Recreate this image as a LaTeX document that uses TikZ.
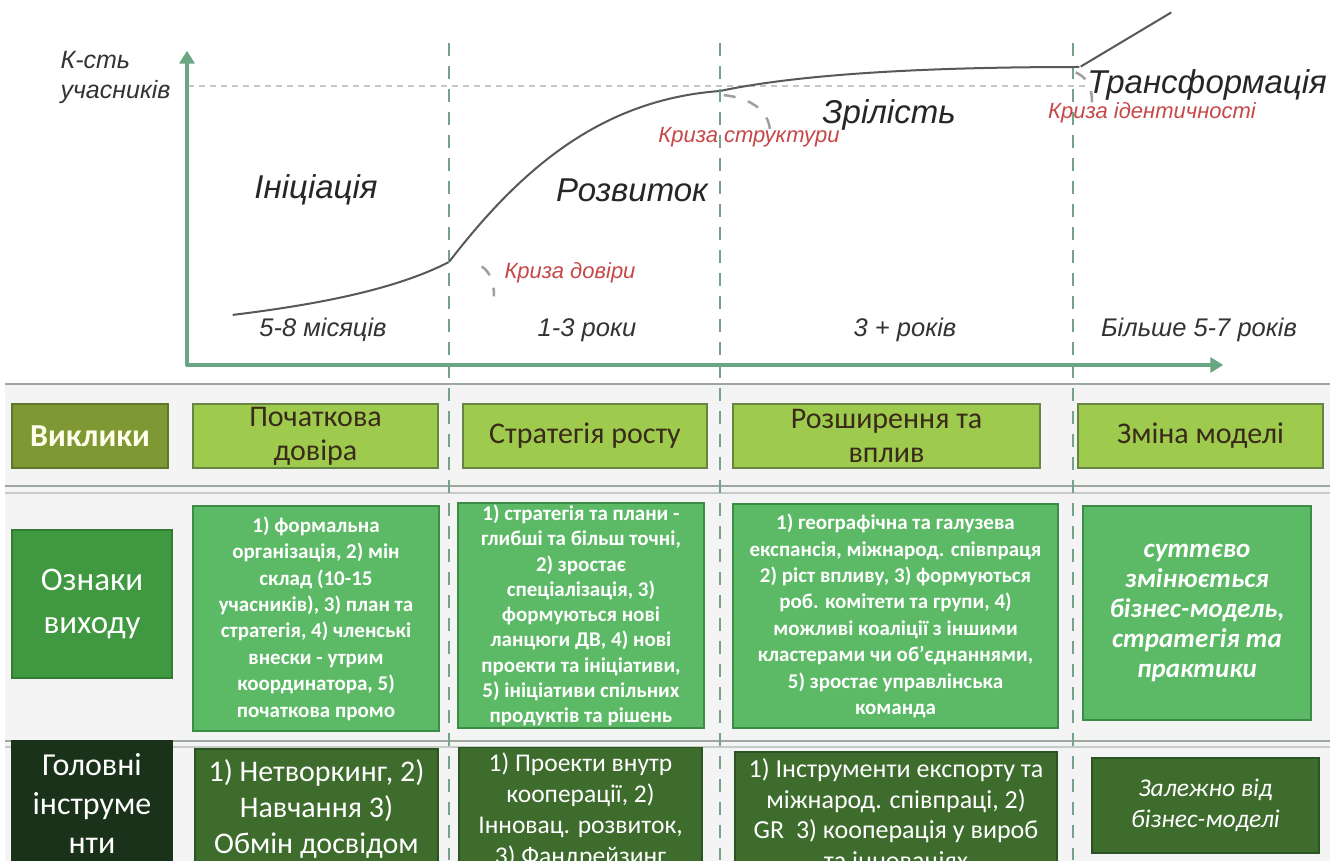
\documentclass[tikz,border=0pt]{standalone}
\usepackage{fontspec}
\setmainfont{Liberation Sans}
\newfontfamily\boxfont{Carlito}
\usetikzlibrary{arrows.meta}
\definecolor{axis_green}{RGB}{104, 166, 132}
\definecolor{guide_green}{RGB}{118, 162, 138}
\definecolor{crisis_red}{RGB}{198, 72, 72}
\definecolor{curve_grey}{RGB}{88, 88, 88}
\definecolor{band_grey}{RGB}{243, 244, 243}
\definecolor{rule_grey}{RGB}{158, 168, 160}
\definecolor{head_olive}{RGB}{126, 152, 52}
\definecolor{head_olive_edge}{RGB}{96, 118, 44}
\definecolor{chal_green}{RGB}{158, 202, 78}
\definecolor{chal_edge}{RGB}{104, 132, 66}
\definecolor{chal_text}{RGB}{58, 42, 26}
\definecolor{exit_head}{RGB}{64, 152, 64}
\definecolor{exit_green}{RGB}{92, 186, 102}
\definecolor{exit_edge}{RGB}{58, 140, 70}
\definecolor{tool_head}{RGB}{26, 50, 26}
\definecolor{tool_green}{RGB}{62, 108, 45}
\definecolor{tool_edge}{RGB}{44, 84, 34}
\tikzstyle{none}=[inner sep=0pt]
\tikzstyle{ax}=[draw=axis_green,line width=4pt,-{Triangle[length=13pt,width=15pt]}]
\tikzstyle{guide}=[draw=guide_green,line width=2.5pt,dash pattern=on 13pt off 10pt]
\tikzstyle{level}=[draw=gray!45,line width=1.2pt,dash pattern=on 6pt off 5pt]
\tikzstyle{curve}=[draw=curve_grey,line width=2pt]
\tikzstyle{crdash}=[draw=gray!75,line width=2.5pt,dash pattern=on 12pt off 13pt]
\tikzstyle{ylab}=[font=\itshape\fontsize{25}{30}\selectfont,text=black!80,align=left]
\tikzstyle{phase}=[font=\itshape\fontsize{33}{38}\selectfont,text=black!85]
\tikzstyle{crisis}=[font=\itshape\fontsize{22}{26}\selectfont,text=crisis_red]
\tikzstyle{dur}=[font=\itshape\fontsize{25.5}{30}\selectfont,text=black!80]
\tikzstyle{cell}=[rectangle,align=center,inner sep=0pt,line width=1.5pt]
\tikzstyle{hd1}=[cell,fill=head_olive,draw=head_olive_edge,text=white!92!yellow,
  font=\boxfont\bfseries\fontsize{32}{36}\selectfont]
\tikzstyle{ch}=[cell,fill=chal_green,draw=chal_edge,text=chal_text,
  font=\boxfont\fontsize{30}{34}\selectfont]
\tikzstyle{hd2}=[cell,fill=exit_head,draw=exit_head!80!black,text=white,
  font=\boxfont\fontsize{33}{43}\selectfont]
\tikzstyle{ex}=[cell,fill=exit_green,draw=exit_edge,text=white,
  font=\boxfont\bfseries\fontsize{21}{26.4}\selectfont]
\tikzstyle{hd3}=[cell,fill=tool_head,draw=tool_head,text=white,
  font=\boxfont\fontsize{32}{39}\selectfont]
\tikzstyle{tl}=[cell,fill=tool_green,draw=tool_edge,text=white,
  font=\boxfont\fontsize{25.5}{31}\selectfont]

\begin{document}
\begin{tikzpicture}[x=1pt,y=-1pt]
        \clip (0,0) rectangle (1339,861);
        \fill [white] (0,0) rectangle (1339,861);
        % lower table area
        \fill [band_grey] (5,384) rectangle (1330,861);
        \draw [rule_grey,line width=2.5pt] (5,384) -- (1330,384);
        \draw [rule_grey,line width=2.5pt] (5,486) -- (1330,486);
        \draw [rule_grey!60,line width=1.5pt] (5,493) -- (1330,493);
        \draw [rule_grey,line width=2.5pt] (5,741) -- (1330,741);
        \draw [rule_grey!60,line width=1.5pt] (5,747) -- (1330,747);
        % stage borders
        \node [style=none] (4) at (449,42) {};
        \node [style=none] (5) at (449,861) {};
        \node [style=none] (6) at (720,42) {};
        \node [style=none] (7) at (720,861) {};
        \node [style=none] (8) at (1073,42) {};
        \node [style=none] (9) at (1073,861) {};
        \draw [style=guide] (4) to (5);
        \draw [style=guide] (6) to (7);
        \draw [style=guide] (8) to (9);
        \node [style=none] (10) at (187,86) {};
        \node [style=none] (11) at (1088,86) {};
        \draw [style=level] (10) to (11);
        % axes
        \node [style=none] (0) at (187,367) {};
        \node [style=none] (1) at (187,50) {};
        \node [style=none] (2) at (185,365) {};
        \node [style=none] (3) at (1224,365) {};
        \draw [style=ax] (0) to (1);
        \draw [style=ax] (2) to (3);
        % life curve
        \node [style=none] (12) at (232,315) {};
        \node [style=none] (13) at (449,262) {};
        \node [style=none] (14) at (720,91) {};
        \node [style=none] (15) at (1080,67) {};
        \node [style=none] (16) at (1172,12) {};
        \draw [style=curve] (12) .. controls (330,303) and (400,287) .. (13)
          .. controls (520,170) and (600,100) .. (14)
          .. controls (810,72) and (950,67) .. (15) -- (16);
        % crisis marks
        \node [style=none] (17) at (481,266) {};
        \node [style=none] (18) at (494,297) {};
        \node [style=none] (19) at (723,95) {};
        \node [style=none] (20) at (770,130) {};
        \node [style=none] (21) at (1075,72) {};
        \node [style=none] (22) at (1092,103) {};
        \draw [style=crdash] (17) .. controls (490,272) and (494,282) .. (18);
        \draw [style=crdash] (19) .. controls (750,98) and (768,110) .. (20);
        \draw [style=crdash] (21) .. controls (1088,78) and (1092,88) .. (22);
        % chart texts
        \node [style=ylab,anchor=west] (23) at (57,77) {К-сть\\учасників};
        \node [style=phase] (24) at (316,190) {Ініціація};
        \node [style=phase] (25) at (632,190) {Розвиток};
        \node [style=phase] (26) at (889,115) {Зрілість};
        \node [style=phase] (27) at (1207,85) {Трансформація};
        \node [style=crisis] (28) at (570,273) {Криза довіри};
        \node [style=crisis] (29) at (749,137) {Криза структури};
        \node [style=crisis] (30) at (1152,113) {Криза ідентичності};
        \node [style=dur] (31) at (323,330) {5-8 місяців};
        \node [style=dur] (32) at (587,330) {1-3 роки};
        \node [style=dur] (33) at (905,330) {3 + років};
        \node [style=dur] (34) at (1199,330) {Більше 5-7 років};
        % row: challenges
        \node [style=hd1,minimum width=156pt,minimum height=64pt] (35) at (90,436) {Виклики};
        \node [style=ch,minimum width=245pt,minimum height=64pt] (36) at (315.5,436) {Початкова\\довіра};
        \node [style=ch,minimum width=244pt,minimum height=64pt] (37) at (585,436) {Стратегія росту};
        \node [style=ch,minimum width=307pt,minimum height=64pt] (38) at (886.5,436) {Розширення та\\вплив};
        \node [style=ch,minimum width=245pt,minimum height=64pt] (39) at (1200.5,436) {Зміна моделі};
        % row: exit signs
        \node [style=hd2,minimum width=160pt,minimum height=148pt] (40) at (92,604) {Ознаки\\виходу};
        \node [style=ex,minimum width=246pt,minimum height=225pt] (41) at (316,618.5)
          {1) формальна\\організація, 2) мін\\склад (10-15\\учасників), 3) план та\\стратегія, 4) членські\\внески - утрим\\координатора, 5)\\початкова промо};
        \node [style=ex,minimum width=246pt,minimum height=225pt,
          font=\boxfont\bfseries\fontsize{21}{25.3}\selectfont] (42) at (581,615.5)
          {1) стратегія та плани -\\глибші та більш точні,\\2) зростає\\спеціалізація, 3)\\формуються нові\\ланцюги ДВ, 4) нові\\проекти та ініціативи,\\5) ініціативи спільних\\продуктів та рішень};
        \node [style=ex,minimum width=325pt,minimum height=224pt] (43) at (895.5,616)
          {1) географічна та галузева\\експансія, міжнарод. співпраця\\2) ріст впливу, 3) формуються\\роб. комітети та групи, 4)\\можливі коаліції з іншими\\кластерами чи об’єднаннями,\\5) зростає управлінська\\команда};
        \node [style=ex,minimum width=228pt,minimum height=214pt,
          font=\boxfont\bfseries\itshape\fontsize{27}{30}\selectfont] (44) at (1197,613)
          {суттєво\\змінюється\\бізнес-модель,\\стратегія та\\практики};
        % row: main tools
        \node [style=hd3,minimum width=160pt,minimum height=124pt] (45) at (92,803) {Головні\\інструме\\нти};
        \node [style=tl,minimum width=243pt,minimum height=120pt,
          font=\boxfont\fontsize{30}{36}\selectfont] (46) at (316.5,809)
          {1) Нетворкинг, 2)\\Навчання 3)\\Обмін досвідом};
        \node [style=tl,minimum width=243pt,minimum height=127pt] (47) at (580.5,811)
          {1) Проекти внутр\\кооперації, 2)\\Інновац. розвиток,\\3) Фандрейзинг};
        \node [style=tl,minimum width=322pt,minimum height=128pt,
          font=\boxfont\fontsize{26}{30.5}\selectfont] (48) at (896,816)
          {1) Інструменти експорту та\\міжнарод. співпраці, 2)\\GR\ \ 3) кооперація у вироб\\та інноваціях};
        \node [style=tl,minimum width=227pt,minimum height=95pt,
          font=\boxfont\itshape\fontsize{25.5}{31}\selectfont] (49) at (1205.5,805.5)
          {Залежно від\\бізнес-моделі};
    \end{tikzpicture}
\end{document}
